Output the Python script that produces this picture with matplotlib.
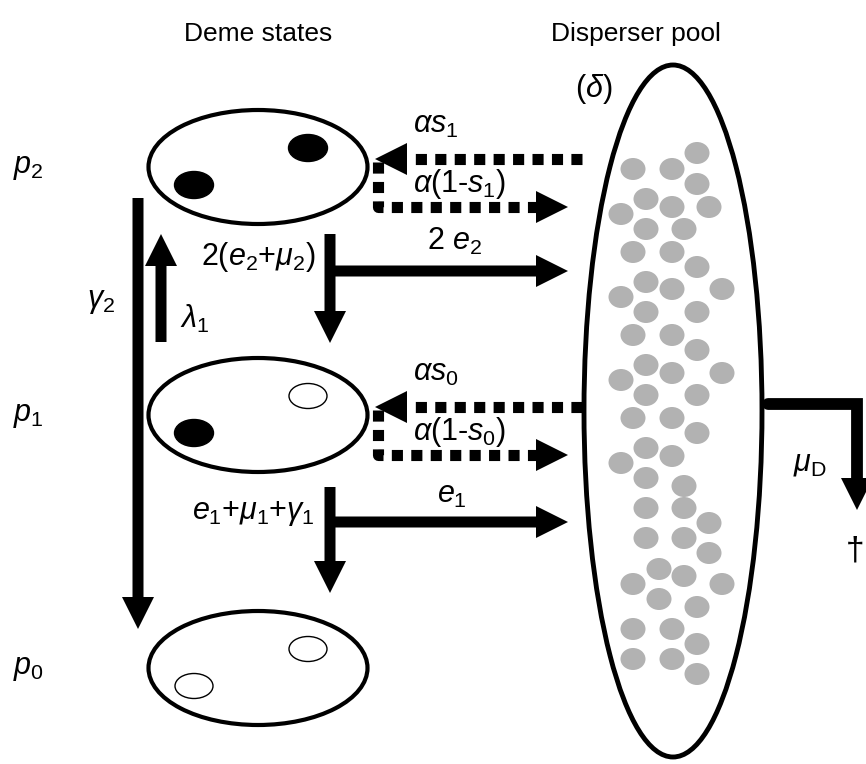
import matplotlib
matplotlib.use("Agg")
import matplotlib.pyplot as plt
from matplotlib.patches import Ellipse, FancyArrow, Polygon

plt.rcParams['font.family'] = ['Liberation Sans', 'DejaVu Sans']
plt.rcParams['mathtext.fontset'] = 'custom'
plt.rcParams['mathtext.rm'] = 'Liberation Sans'
plt.rcParams['mathtext.it'] = 'Liberation Sans:italic'

# text content
titles = ['Deme states', 'Disperser pool']
state_labels = [r'$p_2$', r'$p_1$', r'$p_0$']
# filled (True) / empty (False) individuals in each deme: p2, p1, p0
deme_fill = [[True, True], [False, True], [False, False]]
stay_labels = [r'$\alpha s_1$', r'$\alpha s_0$']
leave_labels = [r'$\alpha$($\mathit{1}$-$s_1$)', r'$\alpha$($\mathit{1}$-$s_0$)']
emig_labels = [r'2 $e_2$', r'$e_1$']
down_labels = [r'2($e_2$+$\mu_2$)', r'$e_1$+$\mu_1$+$\gamma_1$']

# disperser pool individuals (pixel positions)
pool_x = [697, 633, 672, 697, 646, 621, 672, 709, 646, 684, 633, 672, 697, 646,
          621, 672, 722, 646, 697, 633, 672, 697, 646, 621, 672, 722, 646, 697,
          633, 672, 697, 646, 621, 672, 646, 684, 646, 684, 709, 646, 684, 709,
          659, 633, 684, 722, 659, 697, 633, 672, 697, 633, 672, 697]
pool_y = [153, 169, 169, 184, 199, 214, 207, 207, 229, 229, 252, 252, 267, 282,
          297, 289, 289, 312, 312, 335, 335, 350, 365, 380, 373, 373, 395, 395,
          418, 418, 433, 448, 463, 456, 478, 486, 508, 508, 523, 538, 538, 553,
          569, 584, 576, 584, 599, 607, 629, 629, 644, 659, 659, 674]

fig = plt.figure(figsize=(8.66, 7.64), dpi=100)
ax = fig.add_axes([0, 0, 1, 1])
ax.set_xlim(0, 866)
ax.set_ylim(764, 0)
ax.axis('off')

fs = 22

ax.text(258, 41, titles[0], fontsize=19, ha='center', va='baseline')
ax.text(636, 41, titles[1], fontsize=19, ha='center', va='baseline')

deme_y = [167, 415, 668]
for i, yc in enumerate(deme_y):
    ax.add_patch(Ellipse((258, yc), 219, 114, fill=False, lw=3, ec='black'))
    ax.text(13, yc + 6, state_labels[i], fontsize=fs, ha='left', va='baseline')
    spots = [(308, yc - 19), (194, yc + 18)]
    for (sx, sy), filled in zip(spots, deme_fill[i]):
        if filled:
            ax.add_patch(Ellipse((sx, sy), 39, 27, fc='black', ec='black', lw=1))
        else:
            ax.add_patch(Ellipse((sx, sy), 38, 25, fc='white', ec='black', lw=1))


def arrow(x0, y0, x1, y1):
    ax.add_patch(FancyArrow(x0, y0, x1 - x0, y1 - y0, width=11, head_width=32,
                            head_length=32, length_includes_head=True,
                            fc='black', ec='none'))


def dotted(xs, ys, tip):
    ax.plot(xs, ys, color='black', lw=8, linestyle=(0, (1, 0.75)),
            dash_capstyle='butt', solid_joinstyle='miter')
    tx, ty = tip
    d = 1 if tx > xs[-1] else -1
    ax.add_patch(Polygon([(tx - d * 32, ty - 16), (tx - d * 32, ty + 16), (tx, ty)],
                         closed=True, fc='black', ec='none'))


# transitions between deme states
arrow(138, 198, 138, 629)
ax.text(87, 307, r'$\gamma_2$', fontsize=fs, ha='left', va='baseline')
arrow(161, 342, 161, 234)
ax.text(180, 328, r'$\lambda_1$', fontsize=fs, ha='left', va='baseline')

for k, yc in enumerate([167, 415]):
    off = yc - 167
    # dispersal back and forth with the pool
    dotted([582, 409], [159 + off, 159 + off], (375, 159 + off))
    dotted([378, 378, 537], [162 + off, 207 + off, 207 + off], (568, 207 + off))
    ax.text(413, 133 + off, stay_labels[k], fontsize=fs, ha='left', va='baseline')
    ax.text(413, 192 + off, leave_labels[k], fontsize=fs, ha='left', va='baseline')

# emigration / extinction arrows
for k, (top, tip, hy, by) in enumerate([(234, 343, 271, 265), (487, 593, 522, 519)]):
    arrow(330, top, 330, tip)
    arrow(330, hy, 568, hy)
    ax.text(315, by, down_labels[k], fontsize=fs, ha='right', va='baseline')
ax.text(427, 250, emig_labels[0], fontsize=fs, ha='left', va='baseline')
ax.text(437, 503, emig_labels[1], fontsize=fs, ha='left', va='baseline')

# disperser pool
ax.add_patch(Ellipse((673, 411), 178, 692, fill=False, lw=3.5, ec='black'))
for px, py in zip(pool_x, pool_y):
    ax.add_patch(Ellipse((px, py), 25, 22, fc='#b2b2b2', ec='none'))
ax.text(575, 97, r'($\delta$)', fontsize=fs, ha='left', va='baseline')

# mortality in the pool
ax.plot([768, 857, 857], [404, 404, 480], color='black', lw=8.5,
        solid_capstyle='round', solid_joinstyle='miter')
ax.add_patch(Polygon([(841, 478), (873, 478), (857, 510)], closed=True,
                     fc='black', ec='none'))
ax.text(793, 471, r'$\mu_\mathrm{D}$', fontsize=fs, ha='left', va='baseline')
ax.text(855, 560, '\u2020', fontsize=24, ha='center', va='baseline')

fig.savefig('out.png', dpi=100)
